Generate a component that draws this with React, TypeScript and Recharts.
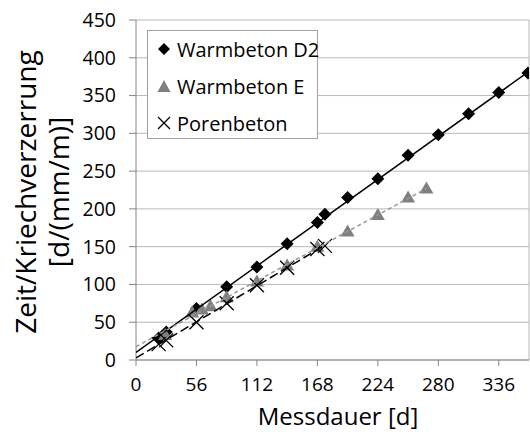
import React from 'react';
import { ScatterChart, Scatter, XAxis, YAxis, CartesianGrid, ReferenceLine } from 'recharts';

const xTicks = [0, 56, 112, 168, 224, 280, 336];
const yTicks = [0, 50, 100, 150, 200, 250, 300, 350, 400, 450];

const d2Days = [21, 28, 56, 84, 112, 140, 168, 175, 196, 224, 252, 280, 308, 336, 363];
const d2Values = [29, 37, 68, 97, 123, 154, 182, 193, 215, 240, 271, 298, 326, 354, 380];
const eDays = [27, 52, 61, 69, 84, 112, 140, 168, 196, 224, 252, 269];
const eValues = [33, 63, 67, 71, 83, 104, 125, 150, 170, 192, 215, 227];
const porDays = [21, 28, 56, 84, 112, 140, 168, 175];
const porValues = [21, 26, 50, 75, 99, 122, 147, 151];

const d2TrendDays = [0, 364];
const d2TrendValues = [10, 382];
const eTrendDays = [0, 269];
const eTrendValues = [17.6, 227];
const porTrendDays = [0, 175];
const porTrendValues = [2.7, 152];

const seriesNames = ['Warmbeton D2', 'Warmbeton E', 'Porenbeton'];

const zip = (xs: number[], ys: number[]) => xs.map((x, i) => ({ x, y: ys[i] }));

const FONT = "'Open Sans', sans-serif";
const GRAY = '#808080';

const Diamond = (props: any) => {
  const { cx, cy } = props;
  const r = 6.5;
  return <polygon points={`${cx},${cy - r} ${cx + r},${cy} ${cx},${cy + r} ${cx - r},${cy}`} fill="#000" />;
};
const Triangle = (props: any) => {
  const { cx, cy } = props;
  return <polygon points={`${cx},${cy - 7} ${cx + 7},${cy + 5} ${cx - 7},${cy + 5}`} fill={GRAY} />;
};
const Cross = (props: any) => {
  const { cx, cy } = props;
  const r = 7;
  return (
    <g stroke="#000" strokeWidth={1.3}>
      <line x1={cx - r} y1={cy - r} x2={cx + r} y2={cy + r} />
      <line x1={cx - r} y1={cy + r} x2={cx + r} y2={cy - r} />
    </g>
  );
};
const NoShape = () => <g />;

const legendIcons = [
  <svg width="14" height="14" key="a"><polygon points="7,1 13,7 7,13 1,7" fill="#000" /></svg>,
  <svg width="14" height="14" key="b"><polygon points="7,1 13.5,13 0.5,13" fill={GRAY} /></svg>,
  <svg width="14" height="14" key="c"><g stroke="#000" strokeWidth="1.3"><line x1="1" y1="1" x2="13" y2="13" /><line x1="1" y1="13" x2="13" y2="1" /></g></svg>,
];

export default function App() {
  return (
    <div style={{ position: 'fixed', left: 0, top: 0, width: 530, height: 432, background: '#fff' }}>
      <ScatterChart width={530} height={432} margin={{ top: 20, right: 1, bottom: 0, left: 0 }}>
        <CartesianGrid vertical={false} stroke="#b8b8b8" strokeWidth={1} />
        <XAxis
          type="number"
          dataKey="x"
          domain={[0, 364]}
          ticks={xTicks}
          interval={0}
          allowDataOverflow
          height={72}
          stroke="#868686"
          tickSize={6}
          tickMargin={12}
          tick={{ fill: '#000', fontSize: 19, fontFamily: FONT }}
          label={{
            content: () => (
              <text x={338} y={424.5} textAnchor="middle" fontSize={24} fontFamily={FONT} fill="#000">
                Messdauer [d]
              </text>
            ),
          }}
        />
        <YAxis
          type="number"
          dataKey="y"
          domain={[0, 450]}
          ticks={yTicks}
          interval={0}
          allowDataOverflow
          width={136}
          stroke="#868686"
          tickSize={7}
          tickMargin={13}
          tick={{ fill: '#000', fontSize: 19.5, fontFamily: FONT }}
          label={{
            content: () => (
              <text transform="rotate(-90)" textAnchor="middle" fontSize={28} fontFamily={FONT} fill="#000">
                <tspan x={-192} y={36}>Zeit/Kriechverzerrung</tspan>
                <tspan x={-192} y={69}>[d/(mm/m)]</tspan>
              </text>
            ),
          }}
        />
        <ReferenceLine x={364} stroke="#b8b8b8" />
        <Scatter name={seriesNames[0]} data={zip(d2Days, d2Values)} shape={Diamond} isAnimationActive={false} />
        <Scatter name={seriesNames[1]} data={zip(eDays, eValues)} shape={Triangle} isAnimationActive={false} />
        <Scatter name={seriesNames[2]} data={zip(porDays, porValues)} shape={Cross} isAnimationActive={false} />
        <Scatter
          data={zip(d2TrendDays, d2TrendValues)}
          shape={NoShape}
          line={{ stroke: '#000', strokeWidth: 1.5 }}
          isAnimationActive={false}
        />
        <Scatter
          data={zip(eTrendDays, eTrendValues)}
          shape={NoShape}
          line={{ stroke: '#999', strokeWidth: 1.5, strokeDasharray: '4 3' }}
          isAnimationActive={false}
        />
        <Scatter
          data={zip(porTrendDays, porTrendValues)}
          shape={NoShape}
          line={{ stroke: '#000', strokeWidth: 1.5, strokeDasharray: '9 4' }}
          isAnimationActive={false}
        />
      </ScatterChart>
      <div
        style={{
          position: 'absolute',
          left: 147,
          top: 30,
          width: 169,
          height: 107,
          border: '1px solid #a0a0a0',
          background: '#fff',
          fontFamily: FONT,
          fontSize: 20,
          color: '#000',
        }}
      >
        {seriesNames.map((n, i) => (
          <div
            key={n}
            style={{ position: 'absolute', left: 9, top: 4 + i * 37, height: 28, display: 'flex', alignItems: 'center', whiteSpace: 'nowrap' }}
          >
            <span style={{ width: 20, display: 'inline-flex' }}>{legendIcons[i]}</span>
            <span>{n}</span>
          </div>
        ))}
      </div>
    </div>
  );
}
